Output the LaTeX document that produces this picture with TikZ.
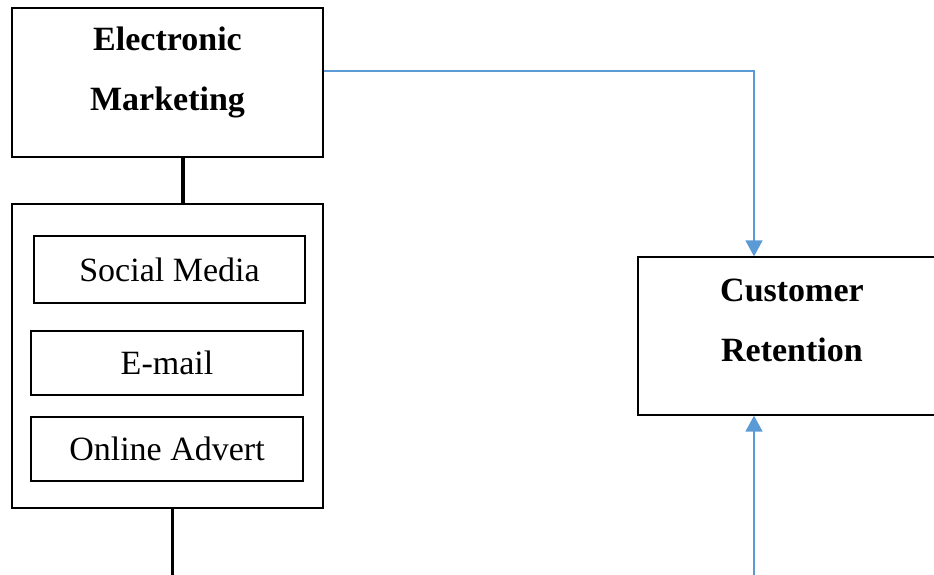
\documentclass[tikz,border=0pt]{standalone}
\usepackage{fontspec}
\setmainfont{Liberation Serif}
\usetikzlibrary{arrows.meta}
\definecolor{lineblue}{HTML}{5B9BD5}
\begin{document}
\begin{tikzpicture}[x=1pt,y=-1pt,
  box/.style={draw=black, line width=1.3pt, inner sep=0pt},
  txt/.style={font=\fontsize{34}{60}\selectfont, align=center, inner sep=0pt},
  btxt/.style={txt, font=\fontsize{34}{60}\selectfont\bfseries},
  blueline/.style={draw=lineblue, line width=1.6pt, -{Triangle[width=17pt,length=16pt]}},
  thick line/.style={draw=black, line width=3.5pt}]
\useasboundingbox (0,0) rectangle (934,574);
\clip (0,0) rectangle (934,574);
% boxes
\node[box, minimum width=311pt, minimum height=149pt] (em) at (167.5,82.5) {};
\node[btxt] (emt) at (167.5,72) {Electronic\\Marketing};
\node[box, minimum width=311pt, minimum height=304pt] (grp) at (167.5,356) {};
\node[box, txt, minimum width=271pt, minimum height=67pt] (sm) at (169.5,269.5) {Social Media};
\node[box, txt, minimum width=272pt, minimum height=64pt] (mail) at (167,363) {E-mail};
\node[box, txt, minimum width=272pt, minimum height=64pt] (adv) at (167,449) {Online Advert};
\node[box, minimum width=308pt, minimum height=158pt] (cr) at (792,336) {};
\node[btxt] (crt) at (792,320) {Customer\\Retention};
% connectors
\draw[thick line] ([xshift=15.5pt]em.south) -- ([xshift=15.5pt]grp.north);
\coordinate (gb) at (172,580);
\draw[thick line, line width=3pt] ([xshift=4.5pt]grp.south) -- (gb);
\draw[blueline] ([yshift=11.5pt]em.east) -| ([xshift=-38pt]cr.north);
\coordinate (cb) at (754,580);
\draw[blueline] (cb) -- ([xshift=-38pt]cr.south);
\end{tikzpicture}
\end{document}
